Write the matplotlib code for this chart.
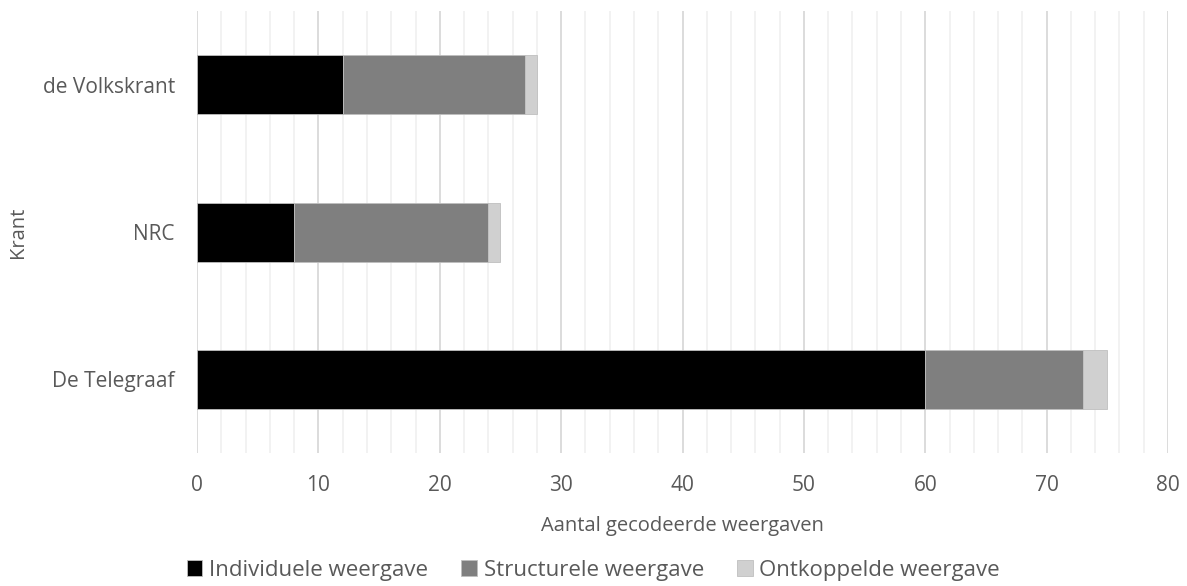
import matplotlib
matplotlib.use("Agg")
import matplotlib.pyplot as plt
import numpy as np

# data
kranten = ["De Telegraaf", "NRC", "de Volkskrant"]
individueel = [60, 8, 12]
structureel = [13, 16, 15]
ontkoppeld = [2, 1, 1]
reeksen = ["Individuele weergave", "Structurele weergave", "Ontkoppelde weergave"]
kleuren = ["#000000", "#7f7f7f", "#d0d0d0"]

plt.rcParams['font.family'] = ['Open Sans', 'DejaVu Sans']
tekst = "#595959"

fig = plt.figure(figsize=(11.87, 5.86), dpi=100)
ax = fig.add_axes([0.166, 0.227, 0.818, 0.754])

y = np.arange(len(kranten))
links = np.zeros(len(kranten))
for vals, naam, kl in zip([individueel, structureel, ontkoppeld], reeksen, kleuren):
    ax.barh(y, vals, left=links, height=0.4, color=kl, label=naam,
            edgecolor="#bfbfbf", linewidth=0.6, zorder=3)
    links += np.array(vals)

ax.set_xlim(0, 80)
ax.set_ylim(-0.5, 2.5)
ax.set_xticks(np.arange(0, 81, 10))
ax.set_xticks(np.arange(0, 81, 2), minor=True)
ax.set_yticks(y)
ax.set_yticklabels(kranten)
ax.grid(axis="x", which="major", color="#d9d9d9", linewidth=1.3, zorder=0)
ax.grid(axis="x", which="minor", color="#efefef", linewidth=1.1, zorder=0)
ax.tick_params(which="both", length=0, labelsize=15, labelcolor=tekst)
ax.tick_params(axis="x", pad=16)
ax.tick_params(axis="y", pad=16)
for s in ax.spines.values():
    s.set_visible(False)

ax.set_xlabel("Aantal gecodeerde weergaven", fontsize=14.5, color=tekst, labelpad=14)
ax.set_ylabel("Krant", fontsize=14.5, color=tekst)
ax.yaxis.set_label_coords(-0.174, 0.5)

fig.legend(loc="center", bbox_to_anchor=(0.5, 0.027), ncol=3, frameon=False,
           fontsize=16, labelcolor=tekst, handlelength=0.7, handleheight=0.7,
           handletextpad=0.3, columnspacing=1.5)

fig.savefig("out.png", dpi=100)
